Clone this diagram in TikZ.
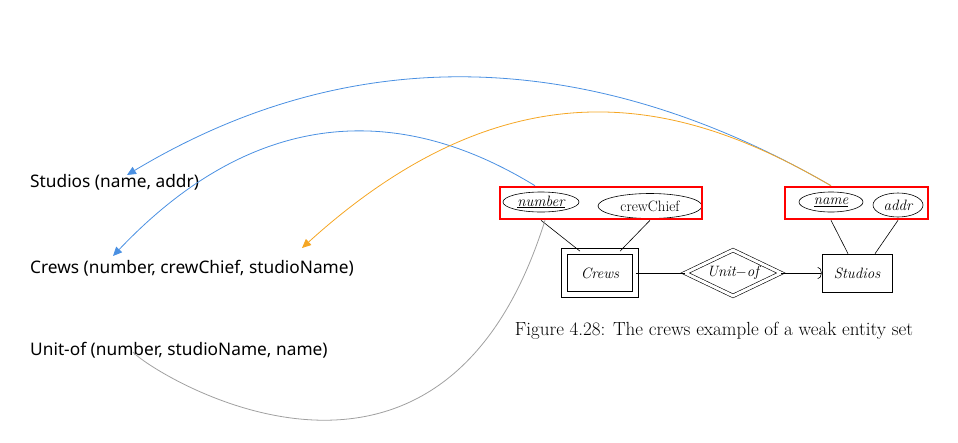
\documentclass[tikz,border=0pt]{standalone}
\usepackage{fontspec}
\newfontfamily\relfont{Noto Sans}
\usepackage{tikz}
\usetikzlibrary{shapes.geometric, arrows.meta, positioning}
\definecolor{mapblue}{RGB}{74,144,226}
\definecolor{maporange}{RGB}{245,166,35}
\definecolor{mapgray}{RGB}{160,160,160}
\tikzset{
  relation/.style={anchor=west, inner sep=0pt, font=\relfont\fontsize{17.3}{20}\selectfont},
  attrib/.style={ellipse, draw, line width=0.6pt, inner sep=0pt, font=\fontsize{15}{17}\selectfont\itshape},
  keybox/.style={rectangle, draw=red, line width=2.6pt, fill=none},
  entity/.style={rectangle, draw, line width=0.6pt, inner sep=0pt, font=\fontsize{15}{17}\selectfont\itshape},
  weakentity/.style={entity, double, double distance=5.5pt},
  weakrel/.style={diamond, draw, line width=0.6pt, double, double distance=3pt, aspect=2,
                  inner sep=0pt, font=\fontsize{15}{17}\selectfont},
  erline/.style={line width=0.6pt},
  maparrow/.style={-{Triangle[length=9pt, width=8pt]}, line width=0.8pt},
}
\begin{document}
\begin{tikzpicture}[x=1pt, y=-1pt]
  \useasboundingbox (0,0) rectangle (958,442);

  % --- Relation schemas ---
  \node[relation] (studiosRel) at (30,182) {Studios (name, addr)};
  \node[relation] (crewsRel)   at (30,268) {Crews (number, crewChief, studioName)};
  \node[relation] (unitofRel)  at (30,350) {Unit-of (number, studioName, name)};

  % --- E/R diagram ---
  \node[attrib, minimum width=76, minimum height=20] (number) at (541,202) {\underline{number}};
  \node[attrib, minimum width=104, minimum height=25, font=\fontsize{15}{17}\selectfont] (crewChief) at (650,206) {crewChief};
  \node[attrib, minimum width=64, minimum height=20] (name) at (831,202) {\underline{name}};
  \node[attrib, minimum width=50, minimum height=24] (addr) at (898,205) {addr};

  \node[weakentity, minimum width=71, minimum height=43] (crews) at (600,273) {Crews};
  \node[weakrel, minimum width=96, minimum height=46] (unitof) at (733,273) {$\mathit{Unit}{-}\mathit{of}$};
  \node[entity, minimum width=70, minimum height=38] (studios) at (857,273) {Studios};

  % --- Key boxes ---
  \node[keybox, minimum width=202, minimum height=32] (crewsKey)   at (601,203) {};
  \node[keybox, minimum width=143, minimum height=32] (studiosKey) at (856.5,203) {};

  \node[font=\fontsize{19}{22}\selectfont] (caption) at (714,331)
        {Figure 4.28: The crews example of a weak entity set};

  % --- E/R lines ---
  \draw[erline] (number.south |- crewsKey.south) -- ([xshift=-20]crews.north);
  \draw[erline] (crewChief.south |- crewsKey.south) -- ([xshift=20]crews.north);
  \draw[erline] (name.south |- studiosKey.south) -- ([xshift=-9]studios.north);
  \draw[erline] (addr.south |- studiosKey.south) -- ([xshift=18]studios.north);
  \draw[erline] (crews.east) -- (unitof.west);
  \draw[erline, -{Arc Barb[length=4pt, width=12pt]}] (unitof.east) -- (studios.west);

  % --- Mapping arrows ---
  \coordinate (nameTop)   at (name.north |- studiosKey.north);
  \coordinate (numberTop) at ([xshift=-6]number.north |- crewsKey.north);
  \coordinate (numberBot) at ([xshift=4]number.south |- crewsKey.south);
  \coordinate (studiosTip)  at (127,175);
  \coordinate (crewsTip)    at (113,256);
  \coordinate (studioNTip)  at (302,248);
  \coordinate (unitofEnd)   at (133,352);

  \draw[maparrow, mapblue] (nameTop) .. controls (600,52) and (360,35) .. (studiosTip);
  \draw[maparrow, mapblue] (numberTop) .. controls (460,140) and (295,64) .. (crewsTip);
  \draw[maparrow, maporange] (nameTop) .. controls (700,110) and (525,46) .. (studioNTip);
  \draw[line width=0.8pt, mapgray] (numberBot) .. controls (440,556) and (150,372) .. (unitofEnd);

\end{tikzpicture}
\end{document}
